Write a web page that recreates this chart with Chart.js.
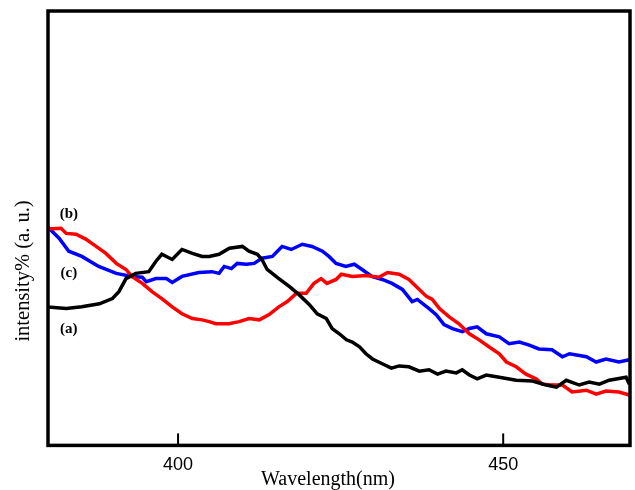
<!DOCTYPE html>
<html>
<head>
<meta charset="utf-8">
<script src="https://cdn.jsdelivr.net/npm/chart.js@4.4.0/dist/chart.umd.min.js"></script>
<style>
  html, body { margin: 0; padding: 0; background: #fff; }
  #wrap { width: 635px; height: 490px; }
</style>
</head>
<body>
<div id="wrap"><canvas id="myChart" width="635" height="490"></canvas></div>
<script>
// x tick labels
const tickValues = [400, 450];

// curve (a) black
const wlA = [379.9, 382.8, 385.2, 387.9, 389.9, 390.9, 392.0, 393.5, 395.5, 396.6, 397.5, 399.1, 400.6, 402.2, 403.7, 404.8, 406.3, 407.9, 409.9, 410.9, 412.2, 412.9, 413.7, 415.5, 417.1, 418.6, 420.2, 421.4, 422.8, 423.7, 424.8, 425.9, 426.8, 427.9, 428.9, 429.9, 431.4, 432.8, 434.0, 435.5, 437.1, 438.6, 439.9, 441.2, 442.8, 443.7, 444.8, 446.0, 447.4, 449.4, 452.0, 454.5, 456.6, 458.2, 459.7, 461.7, 463.2, 464.8, 466.3, 468.9, 469.4];
const intA = [31.9, 31.5, 31.9, 32.6, 33.8, 35.4, 38.4, 39.6, 40.0, 42.4, 44.0, 42.8, 45.1, 44.2, 43.5, 43.5, 44.0, 45.4, 45.8, 44.7, 44.0, 42.8, 40.5, 38.4, 36.6, 34.7, 32.4, 30.3, 29.2, 26.9, 25.7, 24.3, 23.8, 22.7, 21.1, 19.9, 18.8, 17.8, 18.3, 18.1, 17.1, 17.4, 16.4, 17.1, 16.7, 17.4, 16.2, 15.3, 16.2, 15.7, 15.0, 14.8, 13.9, 13.4, 15.0, 13.9, 14.6, 14.1, 15.0, 15.7, 14.1];

// curve (b) red
const wlB = [379.8, 382.0, 382.8, 384.3, 385.8, 387.4, 388.9, 390.5, 392.0, 392.9, 394.5, 396.0, 397.5, 399.1, 400.6, 402.2, 403.7, 404.8, 405.8, 407.8, 409.4, 410.9, 412.5, 414.0, 415.5, 416.8, 418.2, 419.7, 420.9, 422.0, 422.9, 424.3, 425.1, 426.8, 428.9, 430.9, 432.2, 434.0, 435.5, 437.1, 438.2, 439.1, 440.2, 441.7, 443.2, 444.8, 446.3, 447.8, 449.4, 450.5, 452.0, 453.5, 455.1, 456.0, 457.5, 459.1, 460.6, 462.8, 464.3, 465.8, 467.8, 469.4];
const intB = [49.8, 50.0, 48.8, 48.6, 47.5, 45.8, 44.2, 41.9, 40.5, 38.9, 37.3, 35.4, 33.8, 31.9, 30.3, 29.2, 28.9, 28.5, 28.0, 28.0, 28.5, 29.2, 28.9, 30.1, 31.9, 33.1, 35.0, 35.0, 37.3, 38.4, 37.3, 38.2, 39.4, 38.9, 39.1, 38.7, 39.8, 39.4, 38.2, 35.9, 34.3, 33.6, 31.5, 29.6, 28.0, 25.7, 24.3, 22.7, 21.1, 19.2, 18.1, 16.4, 15.3, 14.1, 13.9, 13.9, 12.3, 12.7, 11.8, 12.5, 12.3, 11.6];

// curve (c) blue
const wlC = [379.8, 381.7, 383.2, 385.2, 387.8, 390.5, 392.9, 394.5, 395.1, 396.6, 398.2, 399.1, 400.6, 403.2, 405.2, 406.3, 407.1, 408.2, 409.1, 410.5, 411.7, 412.9, 414.5, 416.0, 417.4, 419.1, 420.6, 422.2, 423.2, 424.3, 425.8, 427.1, 428.3, 429.8, 431.4, 432.9, 434.5, 436.0, 436.8, 438.6, 439.7, 440.9, 442.2, 443.7, 444.8, 446.0, 447.4, 449.4, 450.9, 452.5, 454.0, 455.5, 457.5, 459.1, 460.2, 462.8, 464.3, 465.8, 467.8, 469.4];
const intC = [50.5, 47.7, 44.7, 43.5, 41.2, 39.6, 38.9, 38.7, 37.7, 38.4, 38.4, 37.5, 38.9, 39.8, 40.0, 39.6, 41.2, 40.7, 41.9, 41.7, 41.9, 43.1, 43.5, 45.8, 45.1, 46.3, 45.8, 44.7, 43.5, 41.9, 41.2, 41.7, 40.5, 38.9, 38.2, 37.3, 35.9, 33.1, 33.6, 31.5, 30.1, 27.8, 26.9, 26.2, 26.9, 27.3, 25.7, 25.0, 23.4, 23.8, 23.1, 22.2, 22.0, 20.4, 21.1, 20.4, 19.2, 19.9, 19.2, 19.7];

// curve tags (a) (b) (c), in data units
const tagText = ['(b)', '(c)', '(a)'];
const tagX = [383.2, 383.2, 383.2];
const tagY = [53.2, 39.6, 26.7];

function pts(xs, ys) {
  return xs.map((x, i) => ({ x: x, y: ys[i] }));
}

// frame, inward ticks, titles, tags
const extras = {
  id: 'extras',
  afterDraw(chart) {
    const ctx = chart.ctx;
    const a = chart.chartArea;
    const xs = chart.scales.x;
    const ys = chart.scales.y;
    ctx.save();
    ctx.strokeStyle = '#000';
    ctx.lineWidth = 3.5;
    ctx.strokeRect(a.left, a.top, a.right - a.left, a.bottom - a.top);

    ctx.lineWidth = 2;
    tickValues.forEach(v => {
      const px = xs.getPixelForValue(v);
      ctx.beginPath();
      ctx.moveTo(px, a.bottom);
      ctx.lineTo(px, a.bottom - 12);
      ctx.stroke();
    });

    ctx.fillStyle = '#000';
    ctx.textAlign = 'center';
    ctx.textBaseline = 'middle';
    ctx.font = 'bold 15px "Liberation Serif"';
    tagText.forEach((t, i) => {
      ctx.fillText(t, xs.getPixelForValue(tagX[i]), ys.getPixelForValue(tagY[i]));
    });

    ctx.font = '20px "Liberation Serif"';
    ctx.fillText('Wavelength(nm)', a.left + 280, 480);

    ctx.translate(24, 271);
    ctx.rotate(-Math.PI / 2);
    ctx.font = '20.5px "Liberation Serif"';
    ctx.fillText('intensity% (a. u.)', 0, 0);
    ctx.restore();
  }
};

const data = {
  datasets: [
    { label: '(a)', data: pts(wlA, intA), borderColor: '#000000' },
    { label: '(b)', data: pts(wlB, intB), borderColor: '#ff0000' },
    { label: '(c)', data: pts(wlC, intC), borderColor: '#0000ff' }
  ]
};

const config = {
  type: 'line',
  data,
  options: {
    responsive: false,
    animation: false,
    layout: { padding: { left: 48, top: 11, right: 5, bottom: 13 } },
    elements: {
      point: { radius: 0 },
      line: { borderWidth: 3.5, tension: 0 }
    },
    plugins: {
      legend: { display: false },
      tooltip: { enabled: false }
    },
    scales: {
      x: {
        type: 'linear',
        min: 380,
        max: 469.5,
        afterBuildTicks: scale => { scale.ticks = tickValues.map(v => ({ value: v })); },
        grid: { display: false },
        border: { display: false },
        ticks: {
          padding: 1,
          color: '#000',
          font: { family: '"Liberation Sans"', size: 18 }
        }
      },
      y: {
        display: false,
        min: 0,
        max: 100
      }
    }
  },
  plugins: [extras]
};

const myChart = new Chart(document.getElementById('myChart'), config);
</script>
</body>
</html>
